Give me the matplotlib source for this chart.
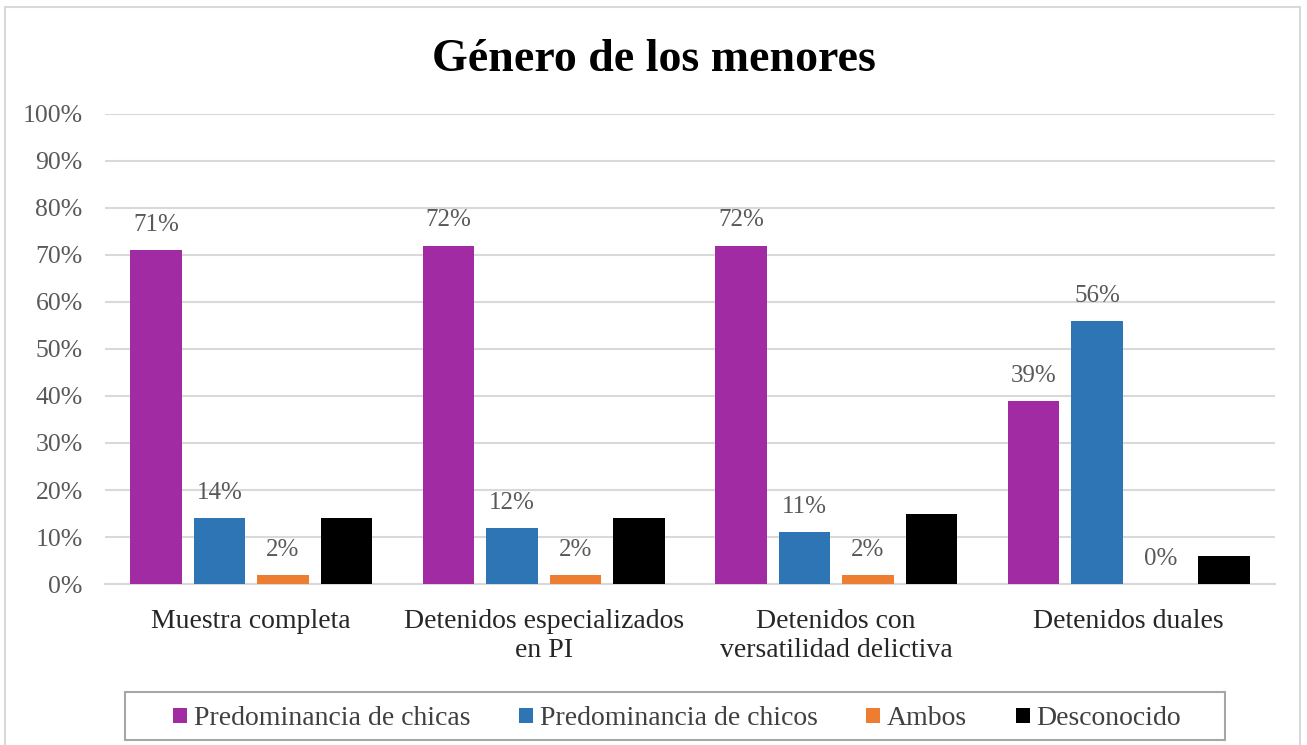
import matplotlib
matplotlib.use("Agg")
import matplotlib.pyplot as plt
import numpy as np
from matplotlib.patches import Rectangle

plt.rcParams['font.family'] = ['Liberation Serif', 'DejaVu Serif']

categories = ["Muestra completa", "Detenidos especializados\nen PI",
              "Detenidos con\nversatilidad delictiva", "Detenidos duales"]
series_names = ["Predominancia de chicas", "Predominancia de chicos", "Ambos", "Desconocido"]
chicas = [71, 72, 72, 39]
chicos = [14, 12, 11, 56]
ambos = [2, 2, 2, 0]
desconocido = [14, 14, 15, 6]
colors = ["#A12BA3", "#2E75B6", "#ED7D31", "#000000"]
yticks = [0, 10, 20, 30, 40, 50, 60, 70, 80, 90, 100]
ytick_labels = [f"{v}%" for v in yticks]
title = "Género de los menores"

W, H = 1307, 745
fig = plt.figure(figsize=(W / 100, H / 100), dpi=100)
ax = fig.add_axes([0.0803, 0.2161, 0.8952, 0.6309])

series = [chicas, chicos, ambos, desconocido]
x = np.arange(len(categories))
width = 0.175
step = 0.217
offsets = (np.arange(4) - 1.5) * step
for i, (vals, col, name) in enumerate(zip(series, colors, series_names)):
    bars = ax.bar(x + offsets[i], vals, width, color=col, label=name, zorder=3)
    if i < 3:
        for b, v in zip(bars, vals):
            ax.text(b.get_x() + b.get_width() / 2, v + 3.0, f"{v}%",
                    ha='center', va='bottom', fontsize=18, color='#595959', zorder=4)

ax.set_xlim(-0.5, 3.5)
ax.set_ylim(0, 100)
ax.set_yticks(yticks)
ax.set_yticklabels(ytick_labels, fontsize=18.5, color='#595959')
ax.yaxis.grid(True, color='#D9D9D9', linewidth=1.5, zorder=0)
ax.set_axisbelow(True)
ax.set_xticks(x)
ax.set_xticklabels(categories, fontsize=20, color='#262626', linespacing=1.2)
ax.tick_params(axis='both', length=0)
ax.tick_params(axis='x', pad=18)
ax.tick_params(axis='y', pad=16)
for s in ['top', 'right', 'left']:
    ax.spines[s].set_visible(False)
ax.spines['bottom'].set_color('#D9D9D9')
ax.spines['bottom'].set_linewidth(1.5)

fig.text(0.5, 0.92, title, ha='center', va='center', fontsize=33,
         fontweight='bold', color='#000000')

leg = fig.legend(loc='center', bbox_to_anchor=(0.518, 0.035), ncol=4, fontsize=20,
                 frameon=False,
                 handlelength=0.5, handleheight=0.5, handletextpad=0.25,
                 columnspacing=1.75, borderpad=0.35)
for t in leg.get_texts():
    t.set_color('#404040')

# legend frame
fig.patches.append(Rectangle((125 / W, 1 - 740 / H), 1100 / W, 48 / H,
                             transform=fig.transFigure, fill=False,
                             edgecolor='#A6A6A6', linewidth=1.5))
# chart border
fig.patches.append(Rectangle((0.004, -0.02), 0.991, 1.01, transform=fig.transFigure,
                             fill=False, edgecolor='#D9D9D9', linewidth=1.5))

fig.savefig("out.png", dpi=100)
